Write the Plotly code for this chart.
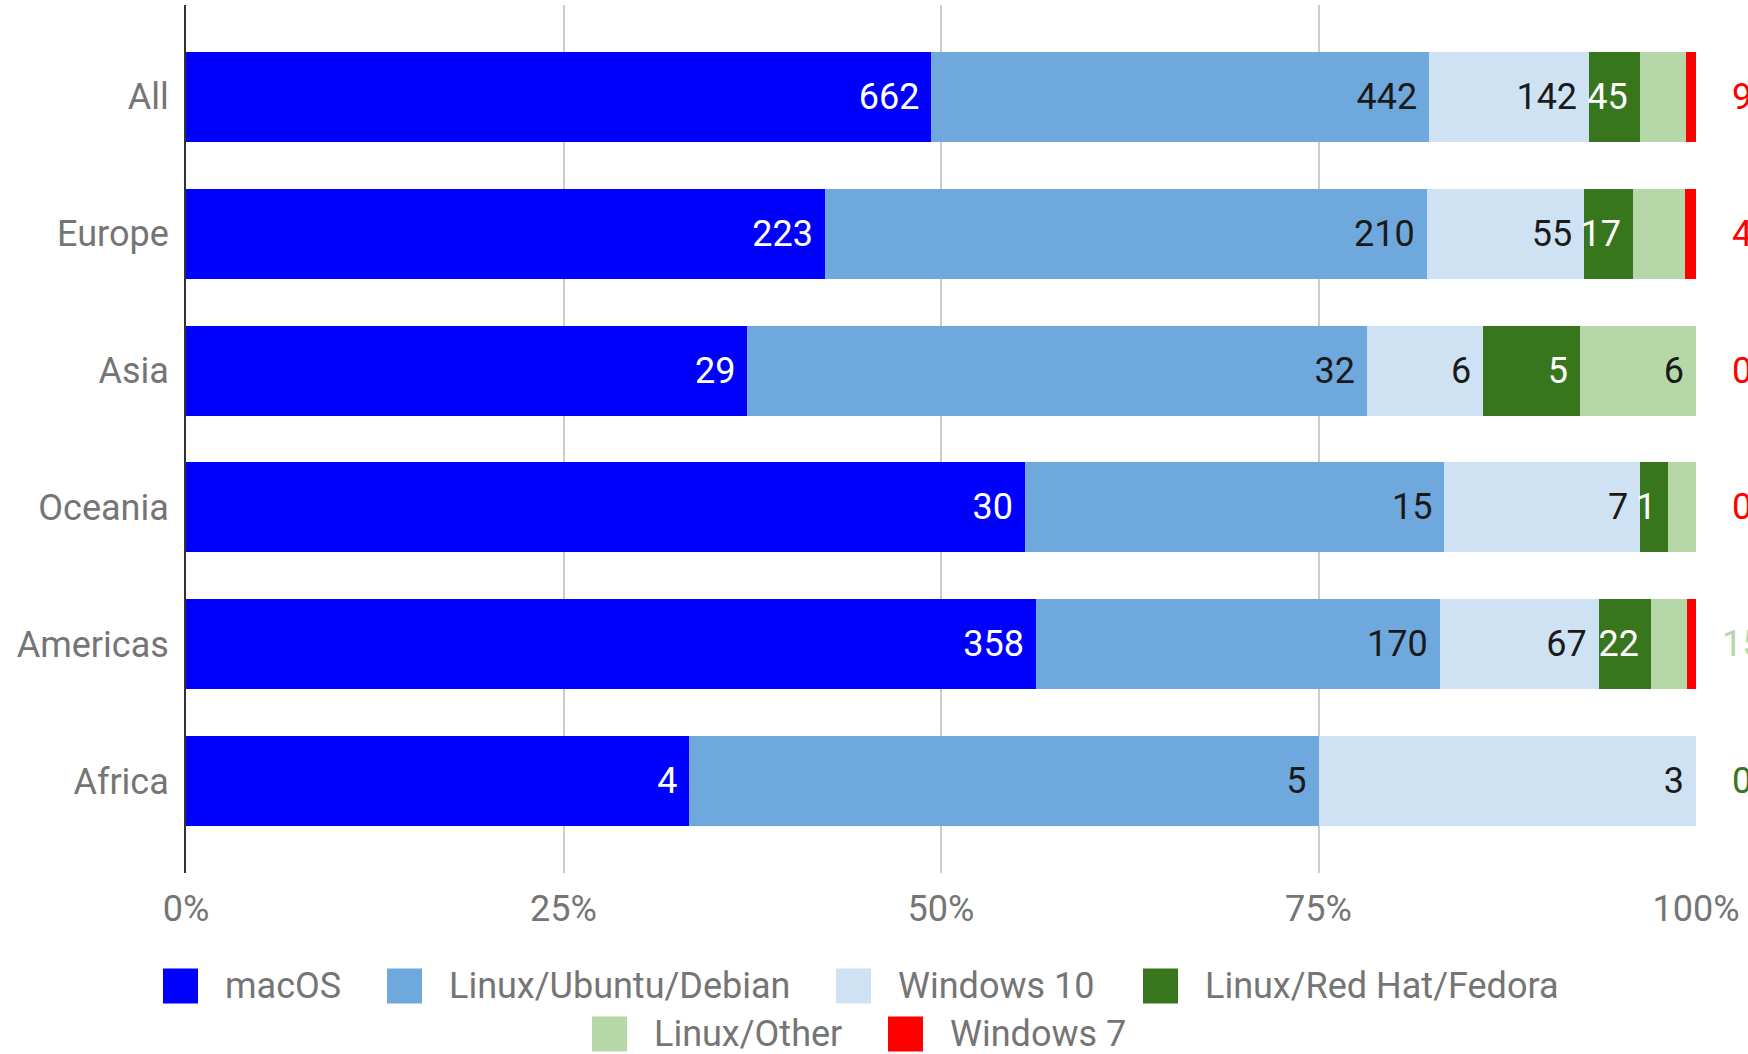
import plotly.graph_objects as go

# ---------------- data ----------------
regions = ["All", "Europe", "Asia", "Oceania", "Americas", "Africa"]
series_names = ["macOS", "Linux/Ubuntu/Debian", "Windows 10",
                "Linux/Red Hat/Fedora", "Linux/Other", "Windows 7"]
macos = [662, 223, 29, 30, 358, 4]
linux_ubuntu = [442, 210, 32, 15, 170, 5]
windows10 = [142, 55, 6, 7, 67, 3]
linux_redhat = [45, 17, 5, 1, 22, 0]
linux_other = [41, 18, 6, 1, 15, 0]
windows7 = [9, 4, 0, 0, 4, 0]
series_values = [macos, linux_ubuntu, windows10, linux_redhat, linux_other, windows7]

# which value labels are drawn inside the bars
show_inside = [
    [True, True, True, True, True, True],        # macOS
    [True, True, True, True, True, True],        # Linux/Ubuntu/Debian
    [True, True, True, True, True, True],        # Windows 10
    [True, True, True, True, True, False],       # Linux/Red Hat/Fedora
    [False, False, True, False, False, False],   # Linux/Other
    [False, False, False, False, False, False],  # Windows 7
]
# label drawn just past the 100% line (series index per region)
outside_series = [5, 5, 5, 5, 4, 3]

colors = ["#0000ff", "#6fa8dc", "#cfe2f3", "#38761d", "#b6d7a8", "#ff0000"]
text_colors = ["#ffffff", "#1a1a1a", "#1a1a1a", "#ffffff", "#1a1a1a", "#1a1a1a"]
tick_vals = [0, 25, 50, 75, 100]
tick_text = ["0%", "25%", "50%", "75%", "100%"]

FONT = "Roboto"
GRAY = "#757575"
W, H = 1748, 1054
ML, MR, MT, MB = 186, 52, 5, 181
PW, PH = W - ML - MR, H - MT - MB

fig = go.Figure()
for name, vals, col, tcol, shows in zip(series_names, series_values, colors,
                                         text_colors, show_inside):
    labels = [f"{v}\u00a0" if s else "" for v, s in zip(vals, shows)]
    fig.add_trace(go.Bar(
        orientation="h", y=regions, x=vals, name=name,
        marker=dict(color=col, line=dict(width=0)),
        text=labels, texttemplate="%{text}",
        textposition="inside", insidetextanchor="end", textangle=0,
        constraintext="none",
        textfont=dict(family=FONT, size=36, color=tcol),
        showlegend=False,
    ))

# outside labels past the 100% line
annotations = []
for i, (reg, si) in enumerate(zip(regions, outside_series)):
    annotations.append(dict(
        x=100, y=reg, xref="x", yref="y", text=str(series_values[si][i]),
        showarrow=False, xanchor="center", yanchor="middle", xshift=46,
        font=dict(family=FONT, size=36, color=colors[si]),
    ))

# custom legend (swatch left edge in px, row center in px)
legend_layout = [(163, 986), (387, 986), (836, 986), (1143, 986), (592, 1034), (888, 1034)]
shapes = []
SW = 35
for name, col, (lx, cy) in zip(series_names, colors, legend_layout):
    x0 = (lx - ML) / PW
    x1 = (lx + SW - ML) / PW
    y0 = (MT + PH - (cy + SW / 2)) / PH
    y1 = (MT + PH - (cy - SW / 2)) / PH
    shapes.append(dict(type="rect", xref="paper", yref="paper",
                       x0=x0, x1=x1, y0=y0, y1=y1,
                       fillcolor=col, line=dict(width=0), layer="above"))
    annotations.append(dict(
        xref="paper", yref="paper", x=(lx + 60 - ML) / PW,
        y=(MT + PH - cy) / PH, text=name, showarrow=False,
        xanchor="left", yanchor="middle",
        font=dict(family=FONT, size=36, color=GRAY),
    ))

fig.update_layout(
    width=W, height=H,
    margin=dict(l=ML, r=MR, t=MT, b=MB, autoexpand=False),
    paper_bgcolor="#ffffff", plot_bgcolor="#ffffff",
    barmode="stack", barnorm="percent", bargap=0.343,
    uniformtext=dict(minsize=36, mode="show"),
    font=dict(family=FONT, size=36, color=GRAY),
    showlegend=False,
    annotations=annotations, shapes=shapes,
    xaxis=dict(range=[0, 100], tickvals=tick_vals, ticktext=tick_text,
               showgrid=True, gridcolor="#cccccc", gridwidth=2,
               zeroline=False, showline=False, ticks="",
               tickfont=dict(family=FONT, size=36, color=GRAY),
               ticklabelstandoff=11, fixedrange=True),
    yaxis=dict(type="category", categoryorder="array", categoryarray=regions,
               range=[5.67, -0.67], showgrid=False, zeroline=False,
               showline=True, linecolor="#333333", linewidth=2, ticks="",
               tickfont=dict(family=FONT, size=36, color=GRAY),
               ticklabelstandoff=8, fixedrange=True),
)

fig.write_html("out.html", config={"displayModeBar": False},
               post_script="document.body.style.margin='0';document.body.style.overflow='hidden';")
